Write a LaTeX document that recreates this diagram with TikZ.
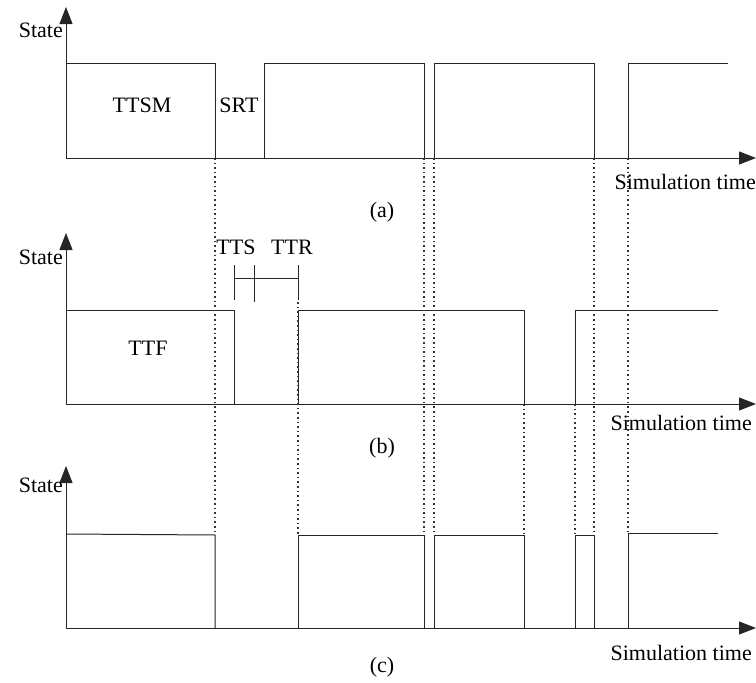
\documentclass[tikz,border=0pt]{standalone}
\usepackage{fontspec}
\setmainfont{Liberation Serif}
\usetikzlibrary{arrows.meta}
\begin{document}
\begin{tikzpicture}[x=1pt,y=-1pt,
  sig/.style={line width=1pt,draw=black!85},
  axis/.style={line width=1pt,draw=black!85,-{Triangle[length=17pt,width=13pt]}},
  guide/.style={line width=1.2pt,draw=black!80,dash pattern=on 1.6pt off 3pt},
  lbl/.style={font=\fontsize{22}{25}\selectfont,inner sep=0pt}]
\useasboundingbox (0,0) rectangle (756,683);
% ---------- panel (a)
\coordinate (a0) at (66,158);
\coordinate (ay) at (66,7);
\coordinate (ax) at (756,158);
\draw[axis] (a0) -- (ay);
\draw[axis] (a0) -- (ax);
\draw[sig] (66,63) -- (215,63) -- (215,158);
\draw[sig] (264,158) -- (264,63) -- (424,63) -- (424,158);
\draw[sig] (434,158) -- (434,63) -- (594,63) -- (594,158);
\draw[sig] (628,158) -- (628,63) -- (728,63);
\node[lbl,anchor=east] (sa) at (63,30) {State};
\node[lbl] (ttsm) at (142,105) {TTSM};
\node[lbl] (srt) at (239,105) {SRT};
\node[lbl,anchor=east] (tma) at (756,182) {Simulation time};
\node[lbl] (capa) at (382,212) {(a)};
% ---------- panel (b)
\coordinate (b0) at (66,404);
\coordinate (by) at (66,233);
\coordinate (bx) at (756,404);
\draw[axis] (b0) -- (by);
\draw[axis] (b0) -- (bx);
\draw[sig] (66,310) -- (234,310) -- (234,404);
\draw[sig] (298,404) -- (298,310) -- (524,310) -- (524,404);
\draw[sig] (575,404) -- (575,310) -- (718,310);
% TTS / TTR bracket
\draw[sig] (234,265) -- (234,300);
\draw[sig] (254,265) -- (254,302);
\draw[sig] (298,265) -- (298,300);
\draw[sig] (234,278) -- (298,278);
\node[lbl] (tts) at (236,247) {TTS};
\node[lbl] (ttr) at (292,247) {TTR};
\node[lbl] (ttf) at (148,348) {TTF};
\node[lbl,anchor=east] (sb) at (63,257) {State};
\node[lbl,anchor=east] (tmb) at (752,423) {Simulation time};
\node[lbl] (capb) at (382,448) {(b)};
% ---------- panel (c)
\coordinate (c0) at (66,628);
\coordinate (cy) at (66,466);
\coordinate (cx) at (756,628);
\draw[axis] (c0) -- (cy);
\draw[axis] (c0) -- (cx);
\draw[sig] (66,534) -- (215,535) -- (215,628);
\draw[sig] (298,628) -- (298,535) -- (424,535) -- (424,628);
\draw[sig] (434,628) -- (434,535) -- (524,535) -- (524,628);
\draw[sig] (575,628) -- (575,535) -- (594,535) -- (594,628);
\draw[sig] (628,628) -- (628,533) -- (718,533);
\node[lbl,anchor=east] (sc) at (63,485) {State};
\node[lbl,anchor=east] (tmc) at (752,653) {Simulation time};
\node[lbl] (capc) at (382,667) {(c)};
% ---------- dotted guides
\foreach \x in {215,424,434,594,628} \draw[guide] (\x,158) -- (\x,534);
\draw[guide] (298,302) -- (298,534);
\foreach \x in {524,575} \draw[guide] (\x,404) -- (\x,534);
\end{tikzpicture}
\end{document}
